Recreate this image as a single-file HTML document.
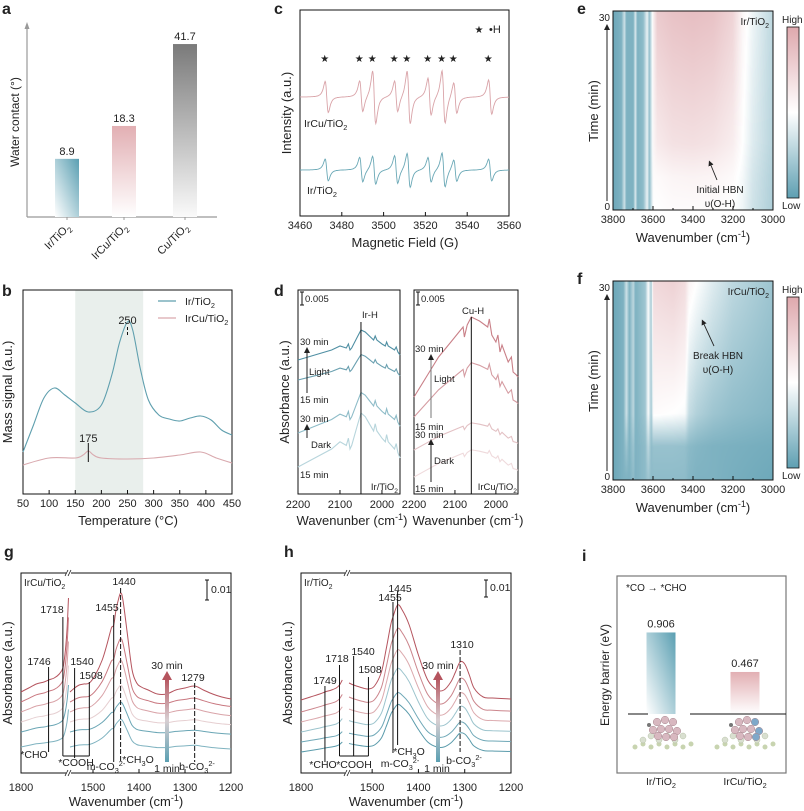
<!DOCTYPE html>
<html><head><meta charset="utf-8"><style>
html,body{margin:0;padding:0;background:#fff;}
#wrap{position:relative;width:804px;height:811px;overflow:hidden;font-family:"Liberation Sans",Arial,sans-serif;}
svg{position:absolute;left:0;top:0;}
canvas{position:absolute;}
text{font-family:"Liberation Sans",Arial,sans-serif;fill:#222;}
</style></head><body>
<div id="wrap">
<canvas id="heatE" width="160" height="199" style="left:613px;top:11px"></canvas>
<canvas id="heatF" width="160" height="199" style="left:613px;top:281px"></canvas>
<svg id="fig" width="804" height="811" viewBox="0 0 804 811">
<defs>
<linearGradient id="gIr" x1="1" y1="0" x2="0" y2="1"><stop offset="0" stop-color="#5a9fb2"/><stop offset="1" stop-color="#ffffff"/></linearGradient>
<linearGradient id="gIrCu" x1="0" y1="0" x2="0" y2="1"><stop offset="0" stop-color="#e2afb3"/><stop offset="1" stop-color="#ffffff"/></linearGradient>
<linearGradient id="gCu" x1="0" y1="0" x2="0" y2="1"><stop offset="0" stop-color="#7a7a7a"/><stop offset="1" stop-color="#fafafa"/></linearGradient>
<linearGradient id="gArrow" x1="0" y1="1" x2="0" y2="0"><stop offset="0" stop-color="#5a9fb2"/><stop offset="0.5" stop-color="#d8cfd2"/><stop offset="1" stop-color="#b5545e"/></linearGradient>
<linearGradient id="gCbar" x1="0" y1="1" x2="0" y2="0"><stop offset="0" stop-color="#5e9fb2"/><stop offset="0.5" stop-color="#ffffff"/><stop offset="1" stop-color="#dea8ad"/></linearGradient>
<linearGradient id="gBarI1" x1="1" y1="0" x2="0" y2="1"><stop offset="0" stop-color="#5a9fb2"/><stop offset="1" stop-color="#ffffff"/></linearGradient>
<linearGradient id="gBarI2" x1="0" y1="0" x2="0" y2="1"><stop offset="0" stop-color="#e2afb3"/><stop offset="1" stop-color="#ffffff"/></linearGradient>
<marker id="ah" markerWidth="6" markerHeight="6" refX="3" refY="3" orient="auto"><path d="M0,0 L6,3 L0,6 z" fill="#222"/></marker>
</defs>
</svg>
</div>
<script>
// ---------- DATA ----------
const aCats=['Ir/TiO_2','IrCu/TiO_2','Cu/TiO_2'];
const aVals=[8.9,18.3,41.7];
const bTempIr=[50,70,90,110,130,150,175,200,220,235,250,260,275,290,310,330,350,370,390,410,430,450];
const bSigIr=[21,34.5,48,53,49.5,45.5,41,44.5,59.5,76,86,82,62,47,39.5,37.5,36.5,38,39,37,32,29.5];
const bTempIrCu=[50,100,150,165,175,185,200,250,300,350,390,420,450];
const bSigIrCu=[14.5,18,18,19.5,21.5,19.5,18,17.5,18,19.5,21,18,15.5];
const cPeaks=[3472.8,3489.3,3495.5,3506,3512,3522,3528.7,3534.3,3551];
const cAmpIrCu=[10,10,17,10,17,12,17,10,11];
const cAmpIr=[7,8,9,9,11,8,11,7,7];
const dWnL=[2200,2160,2120,2100,2085,2080,2076,2072,2060,2050,2040,2030,2020,2016,2012,2000,1992,1989,1985,1970,1966,1962,1957];
const dShapeL=[0,5,10,14,12,16,10,12,22,30,28,24,20,24,20,16,14,18,14,10,13,8,5];
const dOffL=[134,114,61,27];
const dScaleL=[1,0.85,1.35,1.8];
const dWnR=[2200,2170,2140,2110,2090,2080,2077,2070,2060,2050,2040,2020,2016,2010,2000,1995,1990,1985,1970,1962,1958,1950,1946];
const dShapeR=[0,20,40,55,65,70,60,72,80,78,76,70,78,62,55,62,45,52,35,40,25,22,20];
const dOffR=[97,77,44,17];
const dScaleR=[1,0.68,0.34,0.34];
const gWnL=[1800,1785,1770,1755,1746,1735,1725,1718,1714,1710,1707];
const gShapeL=[0,4,8,10,12,14,18,24,37,62,94];
const gWnR=[1550,1540,1530,1520,1508,1495,1480,1470,1460,1455,1450,1445,1440,1435,1425,1415,1405,1395,1380,1360,1340,1320,1300,1279,1260,1240,1220,1200];
const gShapeR=[0,4,7,8,9,17,32,47,64,67,82,92,99,92,57,22,9,5,2,-2,-2,2,4,6,2,-2,-5,-7];
const gOff=[81,71,61,51,41,26];
const gScaleL=[1,0.9,0.75,0.6,0.5,0.4];
const gScaleR=[1,0.64,0.52,0.37,0.3,0.28];
const hWnL=[1800,1780,1760,1749,1735,1725,1718,1712];
const hShapeL=[0,3,6,8,10,12,15,20];
const hWnR=[1550,1540,1520,1508,1495,1480,1470,1460,1455,1445,1435,1420,1400,1380,1360,1345,1330,1320,1310,1300,1290,1280,1260,1240,1200];
const hShapeR=[17,15,12,11,14,28,50,75,83,95,90,75,45,20,10,10,18,28,38,36,25,12,3,2,1];
const hOff=[73,61,51,41,31,21];
const hScale=[1,0.88,0.76,0.67,0.52,0.5];
const hmTimes=[0,5,10,30];
const eWn=[3800,3760,3745,3735,3700,3690,3680,3650,3630,3620,3600,3580,3500,3400,3300,3200,3150,3100,3000];
const eV0=[.05,.1,.35,.1,.1,.4,.1,.15,.45,.15,.5,.5,.52,.52,.52,.5,.45,.35,.25];
const eV5=[.05,.1,.35,.1,.1,.4,.1,.15,.45,.15,.52,.53,.56,.57,.56,.53,.47,.37,.26];
const eV10=[.05,.1,.35,.1,.1,.4,.1,.15,.45,.15,.55,.62,.67,.68,.66,.6,.5,.4,.28];
const eV30=[.05,.1,.35,.1,.1,.4,.1,.15,.45,.15,.58,.8,.85,.87,.85,.75,.55,.45,.3];
const fWn=[3800,3750,3735,3720,3700,3690,3640,3625,3610,3600,3500,3440,3420,3380,3300,3200,3000];
const fV0=[.05,.1,.1,.1,.15,.1,.15,.2,.15,.15,.15,.15,.12,.1,.1,.08,.05];
const fV5=[.05,.1,.2,.1,.2,.1,.15,.3,.15,.18,.18,.17,.14,.12,.1,.09,.07];
const fV10=[.05,.1,.35,.1,.3,.1,.2,.5,.2,.52,.5,.48,.32,.26,.2,.16,.12];
const fV30=[.05,.1,.35,.1,.3,.1,.2,.5,.2,.72,.76,.7,.56,.5,.4,.3,.2];
const iCats=['Ir/TiO_2','IrCu/TiO_2'];
const iVals=[0.906,0.467];

// ---------- HELPERS ----------
const NS='http://www.w3.org/2000/svg';
const svg=document.getElementById('fig');
function mk(tag,attrs,parent){const e=document.createElementNS(NS,tag);for(const k in attrs)e.setAttribute(k,attrs[k]);(parent||svg).appendChild(e);return e;}
function T(x,y,s,size,anchor,parent,rot){
  const e=mk('text',{x:x,y:y,'font-size':size,'text-anchor':anchor||'start'},parent);
  if(rot!==undefined)e.setAttribute('transform','rotate('+rot+' '+x+' '+y+')');
  const parts=s.split(/(_\{[^}]*\}|_.|\^\{[^}]*\})/).filter(p=>p);
  let shift=0;
  parts.forEach(p=>{const ts=document.createElementNS(NS,'tspan');let txt=p,d=0,small=false;
    if(p[0]=='_'){txt=p[1]=='{'?p.slice(2,-1):p.slice(1);d=size*0.3;small=true;}
    else if(p[0]=='^'&&p[1]=='{'){txt=p.slice(2,-1);d=-size*0.4;small=true;}
    ts.setAttribute('dy',d-shift);shift=d;if(small)ts.setAttribute('font-size',size*0.7);
    ts.textContent=txt;e.appendChild(ts);});
  return e;}
function L(x1,y1,x2,y2,parent,stroke,w,dash){const e=mk('line',{x1:x1,y1:y1,x2:x2,y2:y2,stroke:stroke||'#111','stroke-width':w||1},parent);if(dash)e.setAttribute('stroke-dasharray',dash);return e;}
function smooth(pts){let d='M'+pts[0][0].toFixed(1)+','+pts[0][1].toFixed(1);
  for(let i=0;i<pts.length-1;i++){const p0=pts[i-1]||pts[i],p1=pts[i],p2=pts[i+1],p3=pts[i+2]||p2;
    const c1=[p1[0]+(p2[0]-p0[0])/6,p1[1]+(p2[1]-p0[1])/6],c2=[p2[0]-(p3[0]-p1[0])/6,p2[1]-(p3[1]-p1[1])/6];
    d+='C'+c1[0].toFixed(1)+','+c1[1].toFixed(1)+' '+c2[0].toFixed(1)+','+c2[1].toFixed(1)+' '+p2[0].toFixed(1)+','+p2[1].toFixed(1);}
  return d;}
function lin(d0,d1,r0,r1){return v=>r0+(v-d0)*(r1-r0)/(d1-d0);}
function interp(xs,ys,x){for(let i=0;i<xs.length-1;i++){const a=xs[i],b=xs[i+1];if((x-a)*(x-b)<=0){const t=(x-a)/(b-a||1);return ys[i]+t*(ys[i+1]-ys[i]);}}return x>Math.max(xs[0],xs[xs.length-1])===(xs[0]>xs[xs.length-1])?ys[0]:ys[ys.length-1];}
function label(x,y,s){const e=mk('text',{x:x,y:y,'font-size':16,'font-weight':'bold'});e.textContent=s;return e;}

// ---------- PANEL a ----------
const gA=mk('g',{});


let pl=label(2,14,'a');


const aY=v=>190-3.5*v;
const aX=[67,124,185];
const aFills=['url(#gIr)','url(#gIrCu)','url(#gCu)'];
let ax=L(27,217,217,217,gA,'#999',1.2);


let ay=L(27,217,27,27,gA,'#999',1.2);


mk('path',{d:'M24.5,29 L27,22 L29.5,29 z',fill:'#999'},gA);
aVals.forEach((v,i)=>{
  const r=mk('rect',{x:aX[i]-12,y:aY(v),width:24,height:217-aY(v),fill:aFills[i]},gA);
  
  
  const t=T(aX[i],aY(v)-4,v.toFixed(1),11,'middle',gA);
  
  
  L(aX[i],217,aX[i],220,gA,'#999');
  const c=T(aX[i]+4,228,aCats[i],11,'end',gA,-45);
  
  
});
let at=T(19,122,'Water contact (°)',12,'middle',gA,-90);



// ---------- PANEL c ----------
const gC=mk('g',{});


pl=label(274,14,'c');


const cX=lin(3460,3560,300,509);
let box=mk('rect',{x:300,y:10,width:209,height:206,fill:'none',stroke:'#111'},gC);


for(let f=3460;f<=3560;f+=20){L(cX(f),216,cX(f),212,gC);const t=T(cX(f),229,String(f),11,'middle',gC);}
function epr(amps,base,sc){const pts=[];for(let f=3460;f<=3560;f+=0.25){let s=0;cPeaks.forEach((p,i)=>{const u=(f-p)/1.3;s+=amps[i]*2*u/Math.pow(1+u*u,2)*2.4;});pts.push([cX(f),base+s*sc]);}return 'M'+pts.map(p=>p[0].toFixed(1)+','+p[1].toFixed(1)).join('L');}
let s1=mk('path',{d:epr(cAmpIrCu,97,1),fill:'none',stroke:'#d9a3a8','stroke-width':0.9},gC);


let s2=mk('path',{d:epr(cAmpIr,170,1),fill:'none',stroke:'#6aa8b6','stroke-width':0.9},gC);


cPeaks.forEach(p=>{const s=T(cX(p)-2,62,'★',10,'middle',gC);});
let lg=T(479,33,'★',10,'middle',gC);


lg=T(489,33,'•H',11,'start',gC);


let tl=T(304,127,'IrCu/TiO_2',10.5,'start',gC);


tl=T(307,194,'Ir/TiO_2',10.5,'start',gC);


tl=T(405,247,'Magnetic Field (G)',13,'middle',gC);


tl=T(291,113,'Intensity (a.u.)',13,'middle',gC,-90);



// ---------- PANEL b ----------
const gB=mk('g',{});


pl=label(2,296,'b');


const bX=lin(50,450,23,232), bY=v=>494-2*v;
let sh=mk('rect',{x:bX(150),y:290,width:bX(280)-bX(150),height:204,fill:'#e9efec'},gB);


box=mk('rect',{x:23,y:290,width:209,height:204,fill:'none',stroke:'#111'},gB);


for(let t=50;t<=450;t+=50){L(bX(t),494,bX(t),490,gB);const tt=T(bX(t),507,String(t),11,'middle',gB);}
let bl=mk('path',{d:smooth(bTempIr.map((t,i)=>[bX(t),bY(bSigIr[i])])),fill:'none',stroke:'#5f9fae','stroke-width':1.1},gB);


bl=mk('path',{d:smooth(bTempIrCu.map((t,i)=>[bX(t),bY(bSigIrCu[i])])),fill:'none',stroke:'#d9a9ae','stroke-width':1.1},gB);


L(bX(250),327,bX(250),337,gB,'#111',1,'3,2');
tl=T(bX(250),324,'250',11,'middle',gB);


L(bX(175),443,bX(175),462,gB);
tl=T(bX(175),442,'175',11,'middle',gB);


L(158,301,176,301,gB,'#5f9fae',1.2);
tl=T(185,305,'Ir/TiO_2',10.5,'start',gB);


L(158,318,176,318,gB,'#d9a9ae',1.2);
tl=T(185,322,'IrCu/TiO_2',10.5,'start',gB);


tl=T(128,525,'Temperature (°C)',13,'middle',gB);


tl=T(12,392,'Mass signal (a.u.)',13,'middle',gB,-90);



// ---------- PANEL d ----------
const gD=mk('g',{});


pl=label(274,296,'d');


const dXL=lin(2200,1957,298,400), dXR=lin(2200,1946,414,518);
const dColL=['#4f8fa3','#6aa0b0','#8ebcc8','#b7d5dc'], dColR=['#c98088','#d59ca2','#e3c1c4','#efdadc'];
box=mk('rect',{x:298,y:290,width:102,height:204,fill:'none',stroke:'#111'},gD);


box=mk('rect',{x:414,y:290,width:104,height:204,fill:'none',stroke:'#111'},gD);


dOffL.forEach((o,i)=>{const p=mk('path',{d:'M'+dWnL.map((w,j)=>dXL(w).toFixed(1)+','+(494-o-dScaleL[i]*dShapeL[j]).toFixed(1)).join('L'),fill:'none',stroke:dColL[i],'stroke-width':1.1},gD);
  
  });
dOffR.forEach((o,i)=>{const p=mk('path',{d:'M'+dWnR.map((w,j)=>dXR(w).toFixed(1)+','+(494-o-dScaleR[i]*dShapeR[j]).toFixed(1)).join('L'),fill:'none',stroke:dColR[i],'stroke-width':1.1},gD);
  
  });
[2200,2100,2000].forEach(w=>{L(dXL(w),494,dXL(w),490,gD);L(dXR(w),494,dXR(w),490,gD);
  let t=T(dXL(w),508,String(w),11,'middle',gD);
  t=T(dXR(w),508,String(w),11,'middle',gD);});
L(dXL(2050),322,dXL(2050),494,gD);
L(dXR(2060),317,dXR(2060),494,gD);
L(302,292,302,305,gD);L(300,292,304,292,gD);L(300,305,304,305,gD);
L(418,292,418,305,gD);L(416,292,420,292,gD);L(416,305,420,305,gD);
[[305,302,'0.005'],[421,302,'0.005'],[362,318,'Ir-H'],[462,314,'Cu-H'],[300,345,'30 min'],[309,375,'Light'],[300,403,'15 min'],[300,422,'30 min'],[311,448,'Dark'],[300,478,'15 min'],[415,352,'30 min'],[434,382,'Light'],[415,430,'15 min'],[415,438,'30 min'],[434,464,'Dark'],[415,492,'15 min']].forEach(a=>{const t=T(a[0],a[1],a[2],9.5,'start',gD);});
tl=T(398,490,'Ir/TiO_2',9.5,'end',gD);


tl=T(517,490,'IrCu/TiO_2',9.5,'end',gD);


mk('line',{x1:307,y1:393,x2:307,y2:350,stroke:'#222','stroke-width':1,'marker-end':'url(#ah)'},gD);
mk('line',{x1:307,y1:438,x2:307,y2:427,stroke:'#222','stroke-width':1,'marker-end':'url(#ah)'},gD);
mk('line',{x1:431,y1:418,x2:431,y2:357,stroke:'#777','stroke-width':1,'marker-end':'url(#ah)'},gD);
mk('line',{x1:431,y1:482,x2:431,y2:442,stroke:'#222','stroke-width':1,'marker-end':'url(#ah)'},gD);
tl=T(352,525,'Wavenunber (cm^{-1})',13,'middle',gD);


tl=T(468,525,'Wavenunber (cm^{-1})',13,'middle',gD);


tl=T(289,392,'Absorbance (a.u.)',13,'middle',gD,-90);



// ---------- PANELS e/f (heatmaps) ----------
function cmap(v){const teal=[94,159,178],wh=[255,255,255],pk=[222,168,173];let a,b,t;if(v<0.5){a=teal;b=wh;t=v/0.5;}else{a=wh;b=pk;t=(v-0.5)/0.5;}return a.map((c,i)=>Math.round(c+(b[i]-c)*t));}
function heat(id,wn,rows){const cv=document.getElementById(id),ctx=cv.getContext('2d'),W=cv.width,H=cv.height,img=ctx.createImageData(W,H);
  for(let x=0;x<W;x++){const w=3800-x*800/(W-1);const col=rows.map(r=>interp(wn,r,w));
    for(let y=0;y<H;y++){const t=30*(1-y/(H-1));const v=interp(hmTimes,col,t);const c=cmap(v);const k=(y*W+x)*4;img.data[k]=c[0];img.data[k+1]=c[1];img.data[k+2]=c[2];img.data[k+3]=255;}}
  ctx.putImageData(img,0,0);}
heat('heatE',eWn,[eV0,eV5,eV10,eV30]);
heat('heatF',fWn,[fV0,fV5,fV10,fV30]);
function heatFrame(y0,tag,letter,nm,a1,a2){
  const g=mk('g',{});
  
  
  const pl=label(577,y0+3,letter);
  
  
  const fr=mk('rect',{x:613,y:y0,width:160,height:199,fill:'none',stroke:'#111'},g);
  
  
  const hx=lin(3800,3000,613,773);
  for(let w=3800;w>=3000;w-=200){L(hx(w),y0+199,hx(w),y0+195,g);const t=T(hx(w),y0+212,String(w),11,'middle',g);}
  for(let w=3700;w>3000;w-=200)L(hx(w),y0+199,hx(w),y0+197,g);
  let t=T(610,y0+10,'30',10,'end',g);
  t=T(610,y0+199,'0',10,'end',g);
  mk('line',{x1:607,y1:y0+190,x2:607,y2:y0+16,stroke:'#222','stroke-width':1,'marker-end':'url(#ah)'},g);
  t=T(598,y0+100,'Time (min)',13,'middle',g,-90);
  t=T(693,y0+231,'Wavenumber (cm^{-1})',13,'middle',g);
  t=T(769,y0+14,tag,10,'end',g);
  const cb=mk('rect',{x:787,y:y0+16,width:12,height:171,fill:'url(#gCbar)',stroke:'#111','stroke-width':0.8},g);
  
  
  t=T(782,y0+12,'High',10,'start',g);
  t=T(782,y0+198,'Low',10,'start',g);
  t=T(a1[0],a1[1],nm,10,'middle',g);
  t=T(a1[0],a1[1]+14,'υ(O-H)',10,'middle',g);
  mk('line',{x1:a2[0],y1:a2[1],x2:a2[2],y2:a2[3],stroke:'#222','stroke-width':0.9,'marker-end':'url(#ah)'},g);
}
heatFrame(11,'Ir/TiO_2','e','Initial HBN',[720,193],[717,180,710,163]);
heatFrame(281,'IrCu/TiO_2','f','Break HBN',[718,359],[714,346,703,322]);

// ---------- PANELS g/h ----------
const colG=['#b5545e','#c97880','#d9a3a8','#e6cfd1','#6aa6b5','#7fb3c0'];
const colH=['#b5545e','#cc868d','#dcaaae','#9cc4cd','#6fa8b7','#5a9bab'];
function irPanel(letter,x0,tag,xL,xR,wnL,shL,wnR,shR,offs,scL,scR,cols,breakX){
  const g=mk('g',{});
  
  
  const pl=label(x0-17,557,letter);
  
  
  const fr=mk('rect',{x:x0,y:573,width:210,height:200,fill:'none',stroke:'#111'},g);
  
  
  offs.forEach((o,i)=>{
    let p=mk('path',{d:smooth(wnL.map((w,j)=>[xL(w),773-o-scL[i]*shL[j]])),fill:'none',stroke:cols[i],'stroke-width':1},g);
    
    
    p=mk('path',{d:smooth(wnR.map((w,j)=>[xR(w),773-o-scR[i]*shR[j]])),fill:'none',stroke:cols[i],'stroke-width':1},g);
    
    
  });
  [[1800,xL],[1500,xR],[1400,xR],[1300,xR],[1200,xR]].forEach(a=>{const x=a[1](a[0]);L(x,773,x,769,g);const t=T(x,791,String(a[0]),11,'middle',g);});
  mk('rect',{x:breakX-2,y:570,width:5,height:6,fill:'#fff'},g);
  mk('rect',{x:breakX-2,y:770,width:5,height:6,fill:'#fff'},g);
  L(breakX-3,576,breakX,570,g,'#111',0.8);L(breakX,576,breakX+3,570,g,'#111',0.8);
  L(breakX-3,776,breakX,770,g,'#111',0.8);L(breakX,776,breakX+3,770,g,'#111',0.8);
  let t=T(x0+3,586,tag,10,'start',g);
  t=T(x0+105,806,'Wavenumber (cm^{-1})',13,'middle',g);
  t=T(x0-9,673,'Absorbance (a.u.)',13,'middle',g,-90);
  return g;}
const gxL=lin(1800,1706,21,69), gxR=lin(1550,1200,70,231);
const gG=irPanel('g',21,'IrCu/TiO_2',gxL,gxR,gWnL,gShapeL,gWnR,gShapeR,gOff,gScaleL,gScaleR,colG,68);
const hxL=lin(1800,1702,301,347), hxR=lin(1550,1200,349,511);
const gH=irPanel('h',301,'Ir/TiO_2',hxL,hxR,hWnL,hShapeL,hWnR,hShapeR,hOff,hScale,hScale,colH,347);
function ann(g,x,y,s,anchor){const t=T(x,y,s,10.5,anchor||'middle',g);}
L(gxL(1746),667,gxL(1746),752,gG);ann(gG,39,665,'1746');
L(gxL(1718),617,gxL(1718),756,gG);ann(gG,52,613,'1718');
L(gxR(1540),668,gxR(1540),758,gG);ann(gG,82,665,'1540');
L(gxR(1508),682,gxR(1508),756,gG);ann(gG,91,679,'1508');
L(gxL(1718),756,gxR(1508),756,gG);
L(gxR(1455),615,gxR(1455),762,gG);ann(gG,107,611,'1455');
L(gxR(1440),588,gxR(1440),762,gG,'#111',1,'5,2');ann(gG,124,585,'1440');
L(gxR(1279),683,gxR(1279),762,gG,'#111',1,'5,2');ann(gG,193,681,'1279');
ann(gG,34,758,'*CHO');ann(gG,76,766,'*COOH');ann(gG,106,770,'m-CO_3^{2-}');ann(gG,138,763,'*CH_3O');ann(gG,167,772,'1 min');ann(gG,197,770,'b-CO_3^{2-}');
mk('rect',{x:165,y:678,width:4,height:84,fill:'url(#gArrow)'},gG);
mk('path',{d:'M162,680 L167,671 L172,680 z',fill:'#b5545e'},gG);
ann(gG,167,669,'30 min');
L(207,580,207,600,gG);L(205,580,209,580,gG);L(205,600,209,600,gG);ann(gG,211,593,'0.01','start');
L(hxL(1749),686,hxL(1749),762,gH);ann(gH,325,684,'1749');
L(hxL(1718),665,hxL(1718),756,gH);ann(gH,337,662,'1718');
L(hxR(1540),656,hxR(1540),756,gH);ann(gH,363,655,'1540');
L(hxR(1508),677,hxR(1508),756,gH);ann(gH,370,673,'1508');
L(hxL(1718),756,hxR(1508),756,gH);
L(hxR(1455),602,hxR(1455),753,gH);ann(gH,390,601,'1455');
L(hxR(1445),591,hxR(1445),745,gH);ann(gH,400,592,'1445');
L(hxR(1310),650,hxR(1310),752,gH,'#111',1,'5,2');ann(gH,462,648,'1310');
ann(gH,323,768,'*CHO');ann(gH,354,768,'*COOH');ann(gH,400,767,'m-CO_3^{2-}');ann(gH,409,755,'*CH_3O');ann(gH,437,772,'1 min');ann(gH,464,764,'b-CO_3^{2-}');
mk('rect',{x:436,y:678,width:4,height:84,fill:'url(#gArrow)'},gH);
mk('path',{d:'M433,680 L438,671 L443,680 z',fill:'#b5545e'},gH);
ann(gH,438,669,'30 min');
L(486,580,486,597,gH);L(484,580,488,580,gH);L(484,597,488,597,gH);ann(gH,490,591,'0.01','start');

// ---------- PANEL i ----------
const gI=mk('g',{});


pl=label(582,561,'i');


box=mk('rect',{x:617,y:576,width:169,height:197,fill:'none',stroke:'#777','stroke-width':1.2},gI);


tl=T(626,591,'*CO → *CHO',10,'start',gI);


const iY=v=>714-v*90;
const iX=[661,745], iFill=['url(#gBarI1)','url(#gBarI2)'];
iVals.forEach((v,i)=>{
  const r=mk('rect',{x:iX[i]-14.5,y:iY(v),width:29,height:714-iY(v),fill:iFill[i]},gI);
  
  
  const t=T(iX[i],iY(v)-5,v.toFixed(3),11,'middle',gI);
  
  
  const c=T(iX[i],785,iCats[i],10.5,'middle',gI);
  
  
});
L(628,714,648,714,gI);L(690,714,786,714,gI);
tl=T(609,675,'Energy barrier (eV)',12,'middle',gI,-90);


function cluster(cx,cu){const g=mk('g',{},gI);
  
  
  for(let k=0;k<8;k++){mk('circle',{cx:cx-28+k*8,cy:747-(k%2)*3,r:2.5,fill:'#c8d4b0'},g);}
  for(let k=0;k<6;k++){mk('circle',{cx:cx-20+k*8,cy:740-(k%2)*4,r:3,fill:'#d9dfd0',stroke:'#b8c2a8','stroke-width':0.5},g);}
  const pos=[[-6,722],[2,720],[10,722],[-10,730],[-2,729],[6,729],[14,731],[-5,736],[3,737],[11,737]];
  pos.forEach((p,k)=>mk('circle',{cx:cx+p[0],cy:p[1],r:3.8,fill:(cu&&(k==2||k==6||k==9))?'#7ea8c9':'#d8b8c0',stroke:'#a88890','stroke-width':0.5},g));
  mk('circle',{cx:cx-14,cy:725,r:2,fill:'#777'},g);}
cluster(663,false);cluster(745,true);
</script>
</body></html>
